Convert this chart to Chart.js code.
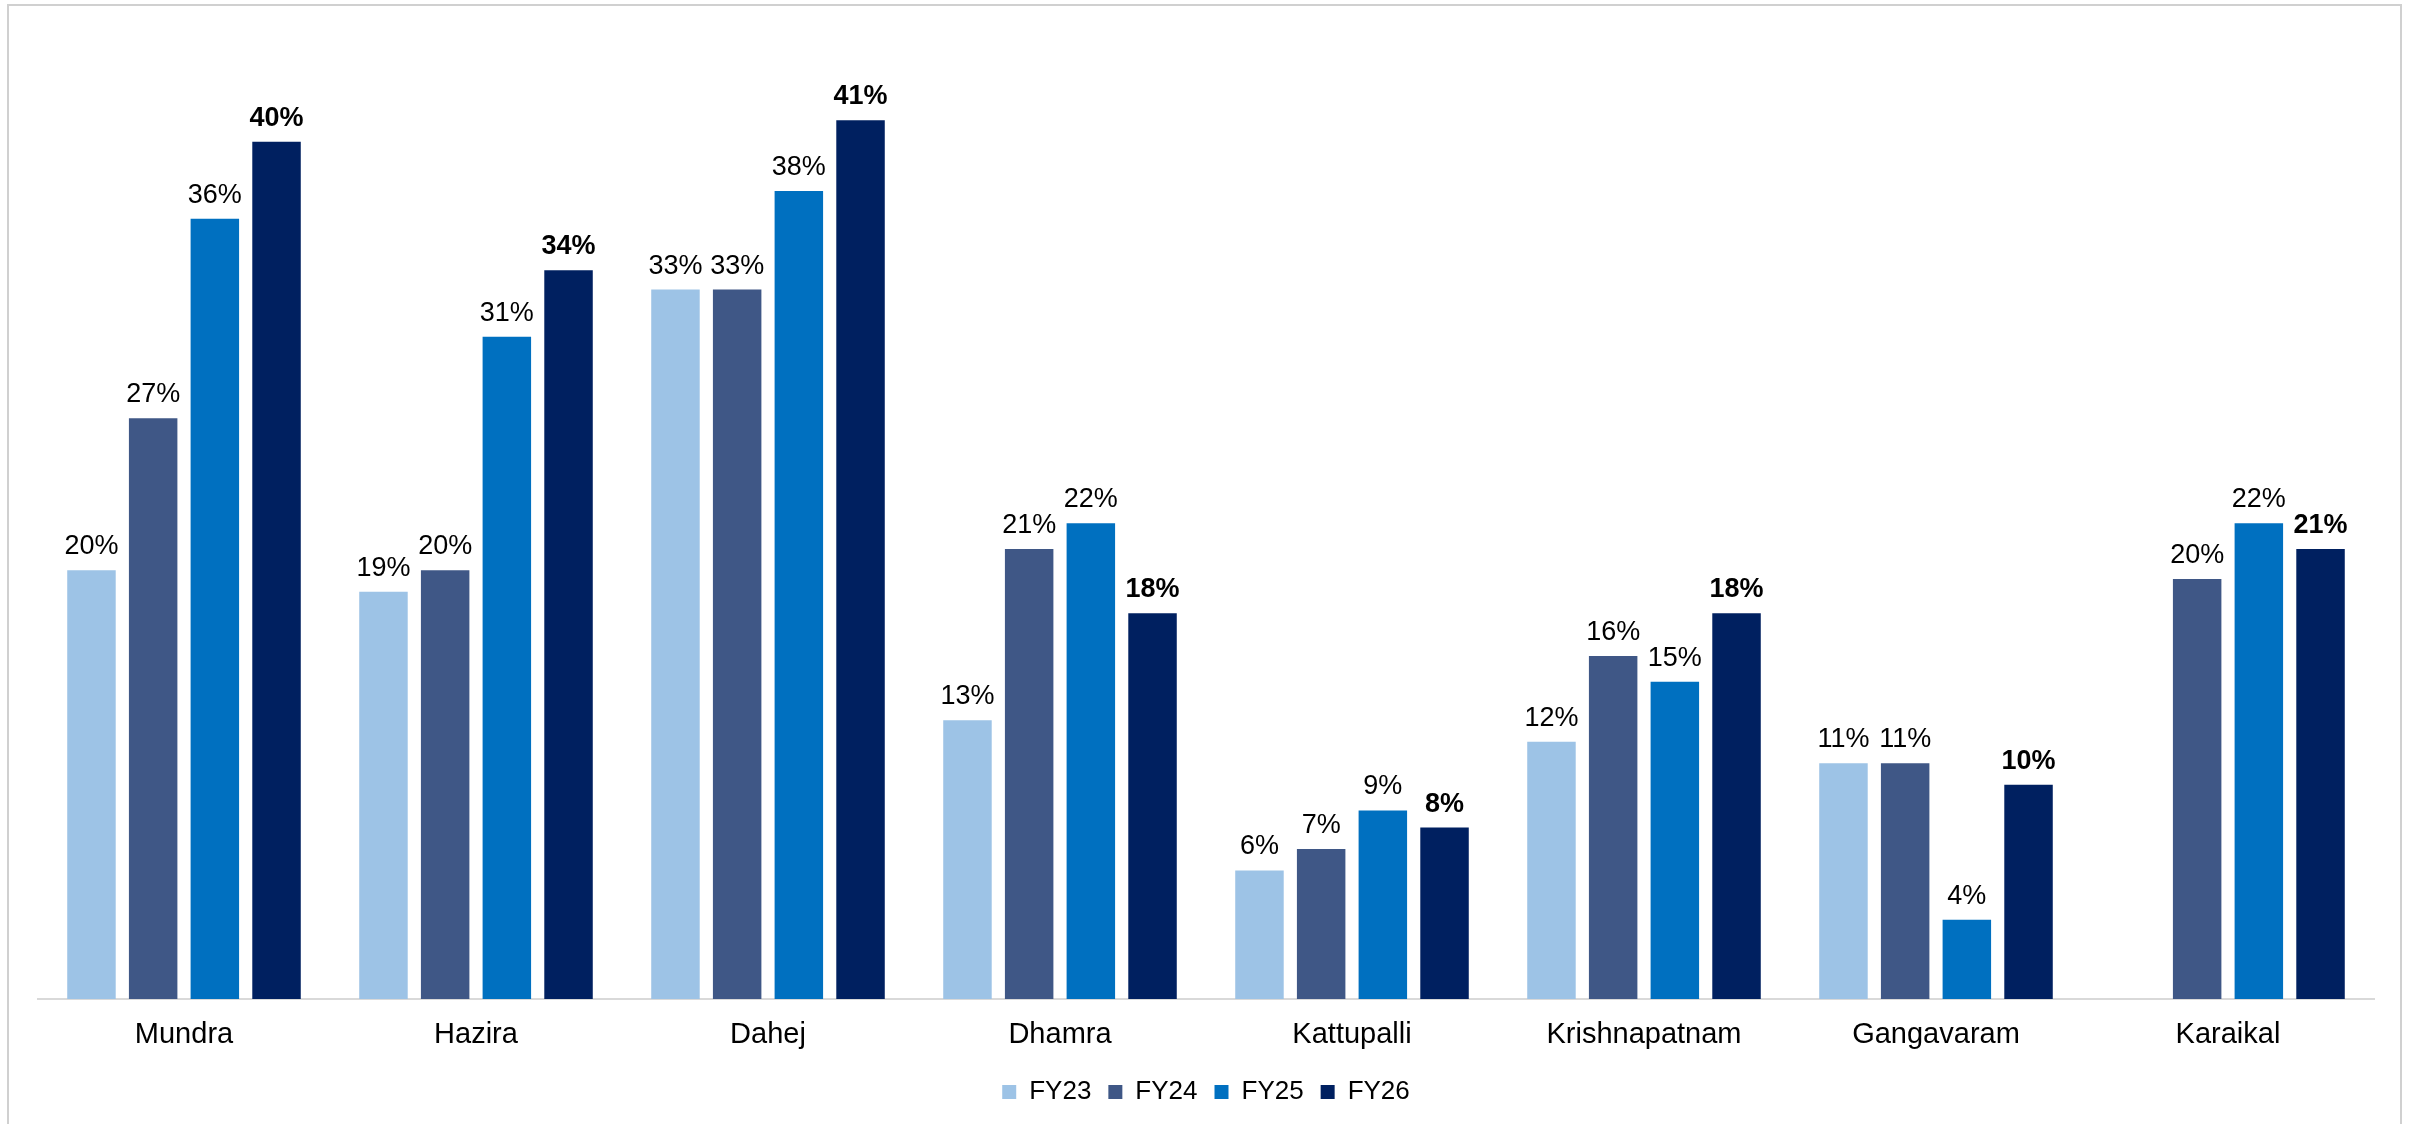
<!DOCTYPE html>
<html>
<head>
<meta charset="utf-8">
<script src="https://cdn.jsdelivr.net/npm/chart.js@4.4.1/dist/chart.umd.min.js"></script>
<style>
  html, body { margin: 0; padding: 0; width: 2420px; height: 1124px; overflow: hidden; background: #fff; }
  #frame { position: absolute; left: 7px; top: 4px; width: 2395px; height: 1300px; border: 2px solid #d0d0d0; box-sizing: border-box; pointer-events: none; z-index: 2; }
  #wrap { position: absolute; left: 0; top: 0; width: 2420px; height: 1124px; z-index: 1; }
</style>
</head>
<body>
<div id="frame"></div>
<div id="wrap"><canvas id="c" width="2420" height="1124"></canvas></div>
<script>
const categories = ['Mundra', 'Hazira', 'Dahej', 'Dhamra', 'Kattupalli', 'Krishnapatnam', 'Gangavaram', 'Karaikal'];
const seriesNames = ['FY23', 'FY24', 'FY25', 'FY26'];
const fy23 = [20.0, 19.0, 33.1, 13.0, 6.0, 12.0, 11.0, null];
const fy24 = [27.1, 20.0, 33.1, 21.0, 7.0, 16.0, 11.0, 19.6];
const fy25 = [36.4, 30.9, 37.7, 22.2, 8.8, 14.8, 3.7, 22.2];
const fy26 = [40.0, 34.0, 41.0, 18.0, 8.0, 18.0, 10.0, 21.0];
const colors = ['#9DC3E6', '#3F5786', '#0070C0', '#002060'];

const FONT = "'Liberation Sans', Arial, sans-serif";

const valueLabels = {
  id: 'valueLabels',
  afterDatasetsDraw(chart) {
    const ctx = chart.ctx;
    ctx.save();
    ctx.fillStyle = '#000';
    ctx.textAlign = 'center';
    ctx.textBaseline = 'alphabetic';
    chart.data.datasets.forEach((ds, di) => {
      const meta = chart.getDatasetMeta(di);
      ctx.font = (di === 3 ? 'bold ' : '') + '27px ' + FONT;
      meta.data.forEach((bar, i) => {
        const v = ds.data[i];
        if (v === null || v === undefined) return;
        ctx.fillText(Math.round(v) + '%', bar.x, bar.y - 16);
      });
    });
    ctx.restore();
  }
};

new Chart(document.getElementById('c'), {
  type: 'bar',
  data: {
    labels: categories,
    datasets: [fy23, fy24, fy25, fy26].map((d, i) => ({
      label: seriesNames[i],
      data: d,
      backgroundColor: colors[i],
      borderWidth: 0,
      categoryPercentage: 0.845,
      barPercentage: 0.786
    }))
  },
  options: {
    responsive: false,
    animation: false,
    devicePixelRatio: 1,
    layout: { padding: { left: 38, right: 46, top: 34.5, bottom: 9 } },
    plugins: {
      tooltip: { enabled: false },
      legend: {
        position: 'bottom',
        labels: {
          boxWidth: 14,
          boxHeight: 14,
          padding: 17,
          color: '#000',
          font: { family: FONT, size: 26 }
        }
      }
    },
    scales: {
      x: {
        grid: { display: false, drawTicks: false },
        border: { display: true, color: '#D9D9D9', width: 2 },
        ticks: { color: '#000', padding: 19, font: { family: FONT, size: 29 } },
        afterFit(s) { s.height = 63; }
      },
      y: {
        display: false,
        min: 0,
        max: 45
      }
    }
  },
  plugins: [valueLabels]
});
</script>
</body>
</html>
